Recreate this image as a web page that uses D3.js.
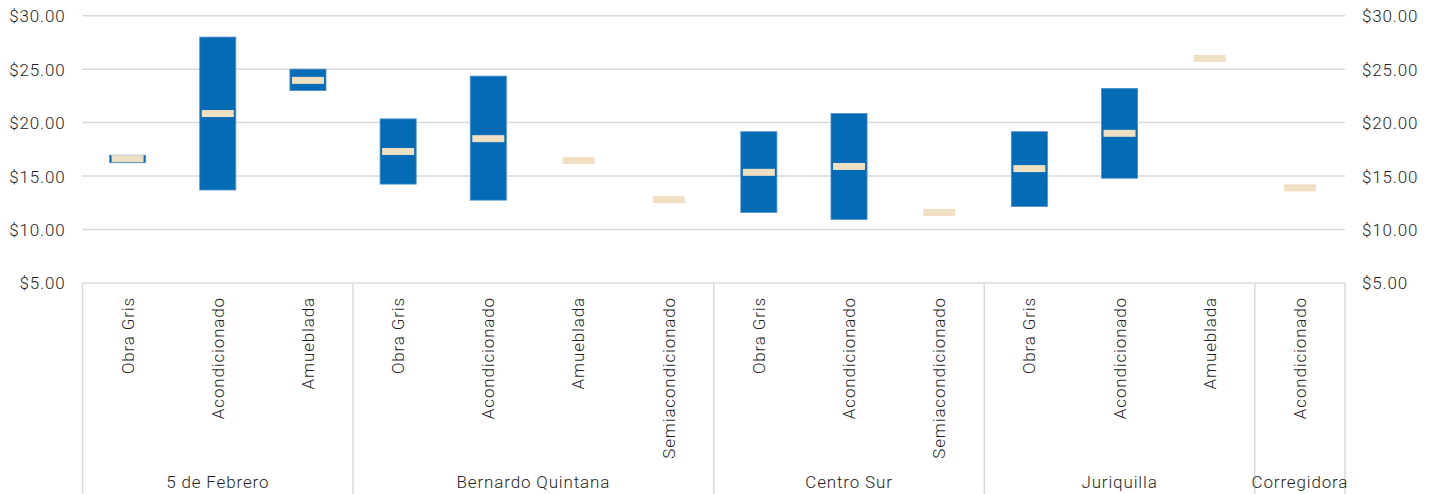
<!DOCTYPE html>
<html>
<head>
<meta charset="utf-8">
<script src="https://cdn.jsdelivr.net/npm/d3@7"></script>
<style>
  html, body { margin: 0; padding: 0; background: #fff; }
  svg { display: block; }
  text { font-family: Roboto, "Liberation Sans", sans-serif; font-weight: 300; fill: #1f1f1f; letter-spacing: 0.85px; }
</style>
</head>
<body>
<svg id="chart" width="1435" height="494"></svg>
<script>
const groups = ["5 de Febrero", "Bernardo Quintana", "Centro Sur", "Juriquilla", "Corregidora"];
const categoryGroup = [0, 0, 0, 1, 1, 1, 1, 2, 2, 2, 3, 3, 3, 4];
const categories = ["Obra Gris", "Acondicionado", "Amueblada",
  "Obra Gris", "Acondicionado", "Amueblada", "Semiacondicionado",
  "Obra Gris", "Acondicionado", "Semiacondicionado",
  "Obra Gris", "Acondicionado", "Amueblada",
  "Acondicionado"];
const minVals = [16.25, 13.7, 23.0, 14.25, 12.75, null, null, 11.6, 10.95, null, 12.15, 14.8, null, null];
const maxVals = [16.95, 28.0, 25.0, 20.35, 24.35, null, null, 19.15, 20.85, null, 19.15, 23.2, null, null];
const avgVals = [16.63, 20.85, 23.95, 17.3, 18.5, 16.45, 12.8, 15.35, 15.9, 11.6, 15.7, 19.0, 26.0, 13.9];
const yTicks = [5, 10, 15, 20, 25, 30];

(function () {
const svg = d3.select("#chart");
const mLeft = 82.5, mRight = 1345, mTop = 15.7, mBottom = 283;
const fs = "17px";

const x = d3.scaleBand().domain(d3.range(categories.length))
  .range([mLeft, mRight]).paddingInner(0.6).paddingOuter(0.3);
const step = x.step();
const y = d3.scaleLinear().domain([5, 30]).range([mBottom, mTop]);
const fmt = d => "$" + d3.format(".2f")(d);

// gridlines
svg.append("g").selectAll("line").data(yTicks).join("line")
  .attr("x1", mLeft).attr("x2", mRight)
  .attr("y1", d => y(d)).attr("y2", d => y(d))
  .attr("stroke", "#d9d9d9").attr("stroke-width", 1.5);

// left axis
const yl = svg.append("g").attr("transform", `translate(${mLeft},0)`)
  .call(d3.axisLeft(y).tickValues(yTicks).tickFormat(fmt).tickSize(0).tickPadding(17));
yl.select(".domain").remove();
yl.selectAll("text").style("font-size", fs).attr("dy", "0.35em");

// right axis
const yr = svg.append("g").attr("transform", `translate(${mRight},0)`)
  .call(d3.axisRight(y).tickValues(yTicks).tickFormat(fmt).tickSize(0).tickPadding(17));
yr.select(".domain").remove();
yr.selectAll("text").style("font-size", fs).attr("dy", "0.35em");

// x axis frame: group separators
const bounds = [];
groups.forEach((g, gi) => {
  const idx = categoryGroup.map((v, i) => v === gi ? i : -1).filter(i => i >= 0);
  const x0 = x(idx[0]) - step * 0.3;
  const x1 = x(idx[idx.length - 1]) + x.bandwidth() + step * 0.3;
  bounds.push({ g, x0, x1 });
});
const sepX = [mLeft].concat(bounds.map(b => b.x1));
svg.append("g").selectAll("line").data(sepX).join("line")
  .attr("x1", d => d).attr("x2", d => d)
  .attr("y1", mBottom).attr("y2", 494)
  .attr("stroke", "#d9d9d9").attr("stroke-width", 1.5);

// category labels
svg.append("g").selectAll("text").data(categories).join("text")
  .attr("transform", (d, i) => `translate(${x(i) + x.bandwidth() / 2},${297}) rotate(-90)`)
  .attr("text-anchor", "end").attr("dy", "0.35em")
  .style("font-size", fs)
  .text(d => d);

// group labels
svg.append("g").selectAll("text").data(bounds).join("text")
  .attr("x", d => (d.x0 + d.x1) / 2).attr("y", 488)
  .attr("text-anchor", "middle")
  .style("font-size", fs)
  .text(d => d.g);

// range bars
const idxs = d3.range(categories.length);
svg.append("g").selectAll("rect").data(idxs.filter(i => minVals[i] != null)).join("rect")
  .attr("x", i => x(i)).attr("width", x.bandwidth())
  .attr("y", i => y(maxVals[i])).attr("height", i => y(minVals[i]) - y(maxVals[i]))
  .attr("fill", "#046bb5").attr("stroke", "#4a90cf").attr("stroke-width", 0.8);

// average markers
svg.append("g").selectAll("rect").data(idxs).join("rect")
  .attr("x", i => x(i) + x.bandwidth() / 2 - 16).attr("width", 32)
  .attr("y", i => y(avgVals[i]) - 3.5).attr("height", 7)
  .attr("fill", "#efe0c3");
})();
</script>
</body>
</html>
